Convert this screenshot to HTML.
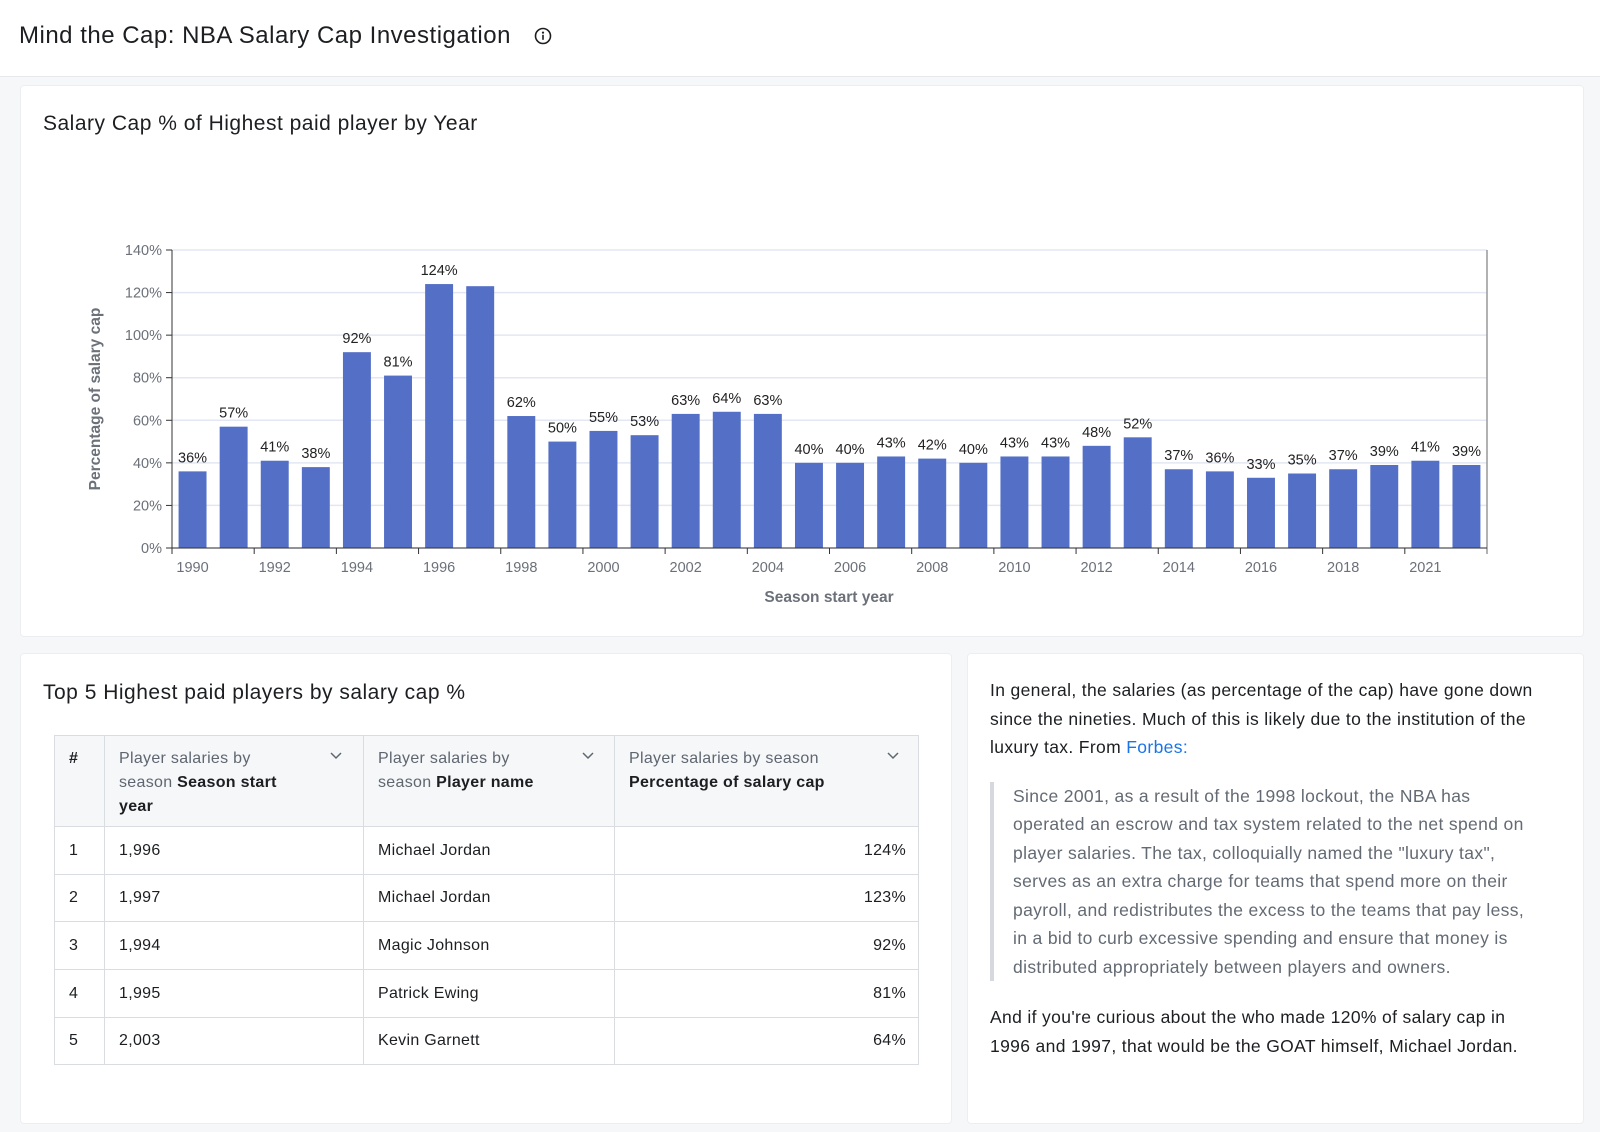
<!DOCTYPE html>
<html><head><meta charset="utf-8">
<style>
*{box-sizing:border-box;margin:0;padding:0}
body{width:1600px;height:1132px;background:#f6f7f9;font-family:"Liberation Sans",sans-serif;color:#1c1e21;position:relative;overflow:hidden}
.hdr{position:absolute;left:0;top:0;width:1600px;height:77px;background:#fff;border-bottom:1px solid #e6e8eb}
.hdr h1{position:absolute;left:19px;top:22px;font-size:24px;font-weight:400;letter-spacing:0.5px}
.card{position:absolute;background:#fff;border:1px solid #eceef1;border-radius:4px}
.ct{position:absolute;left:22px;font-size:21px;font-weight:400;letter-spacing:0.5px}
table{position:absolute;left:33px;top:81px;border-collapse:collapse;font-size:16px;letter-spacing:0.3px}
td,th{border:1px solid #d9dce1;padding:0 12px 0 14px;vertical-align:middle;text-align:left;font-weight:400}
th{background:#f6f7f9;color:#5f6670;vertical-align:top;padding-top:11px;line-height:24px}
th b{color:#1c1e21}
.txt{position:absolute;left:22px;top:22px;width:560px;font-size:17.5px;line-height:28.5px;letter-spacing:0.35px}
.bq{border-left:4px solid #d5d8dd;padding-left:19px;color:#636a73;margin:20px 12px 22px 0}
a{color:#1a73e8;text-decoration:none}
</style></head><body>
<div class="hdr"><h1>Mind the Cap: NBA Salary Cap Investigation</h1>
<svg style="position:absolute;left:534px;top:27px" width="18" height="18" viewBox="0 0 18 18"><circle cx="9" cy="9" r="7.5" fill="none" stroke="#1c1e21" stroke-width="1.6"/><circle cx="9" cy="5.6" r="1.1" fill="#1c1e21"/><rect x="8.2" y="7.8" width="1.6" height="5" fill="#1c1e21"/></svg></div>

<div class="card" style="left:20px;top:85px;width:1564px;height:552px">
<div class="ct" style="top:26px">Salary Cap % of Highest paid player by Year</div></div>
<svg id="chart" style="position:absolute;left:0;top:0" width="1600" height="640"></svg>

<div class="card" style="left:20px;top:653px;width:932px;height:471px">
<div class="ct" style="top:27px">Top 5 Highest paid players by salary cap %</div>
<table>
<tr style="height:91px"><th style="width:50px;color:#1c1e21;font-weight:700">#</th>
<th style="width:259px">Player salaries by<br>season <b>Season start<br>year</b></th>
<th style="width:251px">Player salaries by<br>season <b>Player name</b></th>
<th style="width:304px">Player salaries by season<br><b>Percentage of salary cap</b></th></tr>
<tr style="height:48px"><td>1</td><td>1,996</td><td>Michael Jordan</td><td style="text-align:right">124%</td></tr>
<tr style="height:47px"><td>2</td><td>1,997</td><td>Michael Jordan</td><td style="text-align:right">123%</td></tr>
<tr style="height:48px"><td>3</td><td>1,994</td><td>Magic Johnson</td><td style="text-align:right">92%</td></tr>
<tr style="height:48px"><td>4</td><td>1,995</td><td>Patrick Ewing</td><td style="text-align:right">81%</td></tr>
<tr style="height:47px"><td>5</td><td>2,003</td><td>Kevin Garnett</td><td style="text-align:right">64%</td></tr>
</table>
<svg style="position:absolute;left:0;top:0" width="932" height="200">
<path d="M310 99l5 5 5-5M562 99l5 5 5-5M867 99l5 5 5-5" fill="none" stroke="#5f6670" stroke-width="1.5"/></svg>
</div>

<div class="card" style="left:967px;top:653px;width:617px;height:471px">
<div class="txt">
<p>In general, the salaries (as percentage of the cap) have gone down since the nineties. Much of this is likely due to the institution of the luxury tax. From <a>Forbes:</a></p>
<div class="bq">Since 2001, as a result of the 1998 lockout, the NBA has operated an escrow and tax system related to the net spend on player salaries. The tax, colloquially named the "luxury tax", serves as an extra charge for teams that spend more on their payroll, and redistributes the excess to the teams that pay less, in a bid to curb excessive spending and ensure that money is distributed appropriately between players and owners.</div>
<p>And if you're curious about the who made 120% of salary cap in 1996 and 1997, that would be the GOAT himself, Michael Jordan.</p>
</div></div>

<script>
const years=[1990,1991,1992,1993,1994,1995,1996,1997,1998,1999,2000,2001,2002,2003,2004,2005,2006,2007,2008,2009,2010,2011,2012,2013,2014,2015,2016,2017,2018,2019,2021,2022];
const values=[36,57,41,38,92,81,124,123,62,50,55,53,63,64,63,40,40,43,42,40,43,43,48,52,37,36,33,35,37,39,41,39];
const valueLabels=["36%","57%","41%","38%","92%","81%","124%","","62%","50%","55%","53%","63%","64%","63%","40%","40%","43%","42%","40%","43%","43%","48%","52%","37%","36%","33%","35%","37%","39%","41%","39%"];
const yTicks=[0,20,40,60,80,100,120,140];
const svg=document.getElementById('chart');
const NS='http://www.w3.org/2000/svg';
const X0=172,X1=1487,Y0=548,Y1=250,YMAX=140;
const band=(X1-X0)/years.length;
const xs=i=>X0+i*band;
const ys=v=>Y0-(v/YMAX)*(Y0-Y1);
function mk(t,a,txt){const e=document.createElementNS(NS,t);for(const k in a)e.setAttribute(k,a[k]);if(txt!==undefined)e.textContent=txt;svg.appendChild(e);return e;}
yTicks.forEach(t=>{
 const g=mk('line',{x1:X0,x2:X1,y1:ys(t),y2:ys(t),stroke:'#e3e7f3','stroke-width':1.5});
 
 
 mk('line',{x1:X0-6,x2:X0,y1:ys(t),y2:ys(t),stroke:'#333'});
 const l=mk('text',{x:X0-10,y:ys(t)+5,'text-anchor':'end','font-size':14.5,fill:'#6b7079'},t+'%');
 
 
});
values.forEach((v,i)=>{
 const w=band*0.68,x=xs(i)+(band-w)/2;
 const r=mk('rect',{x:x,y:ys(v),width:w,height:Y0-ys(v),fill:'#5470c6'});
 
 
 if(valueLabels[i]){const t=mk('text',{x:xs(i)+band/2,y:ys(v)-9,'text-anchor':'middle','font-size':14.5,fill:'#222'},valueLabels[i]);
 
 }
 if(i%2===0){
  mk('line',{x1:xs(i),x2:xs(i),y1:Y0,y2:Y0+6,stroke:'#333'});
  const t=mk('text',{x:xs(i)+band/2,y:Y0+24,'text-anchor':'middle','font-size':14.5,fill:'#6b7079'},years[i]);
  
  
 }
});
mk('line',{x1:X1,x2:X1,y1:Y0+6,y2:Y1,stroke:'#999','stroke-width':1.5});
mk('line',{x1:X0,x2:X0,y1:Y0,y2:Y1,stroke:'#333'});
mk('line',{x1:X0,x2:X1,y1:Y0,y2:Y0,stroke:'#333'});
const xt=mk('text',{x:829,y:602,'text-anchor':'middle','font-size':15.5,'font-weight':700,fill:'#6b7079'},'Season start year');


const yt=mk('text',{x:0,y:0,'text-anchor':'middle','font-size':15.5,'font-weight':700,fill:'#6b7079',transform:'translate(100,399) rotate(-90)'},'Percentage of salary cap');


</script>
</body></html>
